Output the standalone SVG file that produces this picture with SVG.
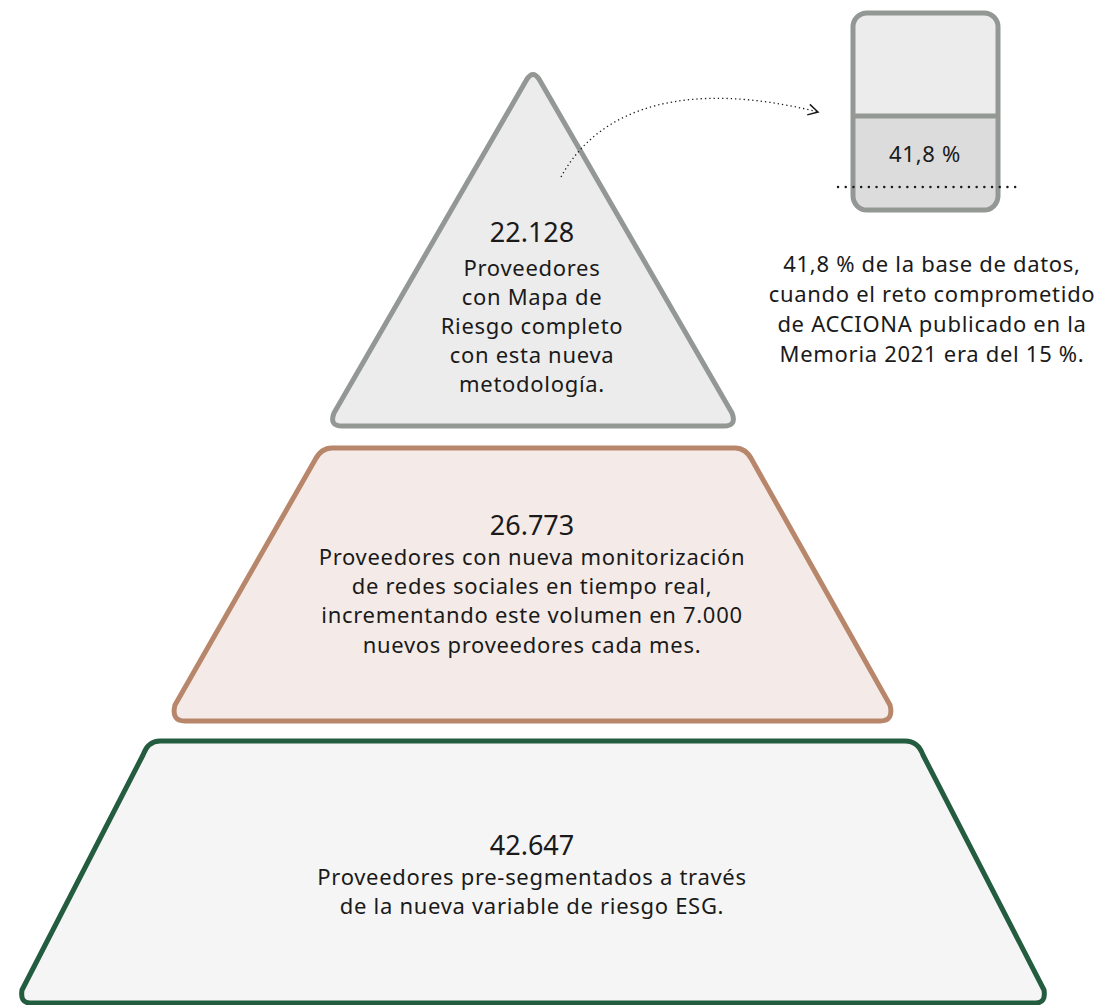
<svg xmlns="http://www.w3.org/2000/svg" width="1100" height="1005" viewBox="0 0 1100 1005">
<style>
text{font-family:"Noto Sans","Open Sans",sans-serif;fill:#1a1a1a;text-anchor:middle}
.t{font-size:22px;letter-spacing:0.7px}
.n{font-size:27px}
</style>
<defs>
<marker id="ah" viewBox="0 0 12 12" refX="10" refY="6" markerWidth="13" markerHeight="13" markerUnits="userSpaceOnUse" orient="auto">
<path d="M1,1 L10,6 L1,11" fill="none" stroke="#1a1a1a" stroke-width="1.4"/>
</marker>
</defs>
<rect width="1100" height="1005" fill="#fff"/>
<g id="level3">
<path d="M160,741 L905,741 Q918,741 923,755 L1044,990 Q1046,1003 1036,1003 L30,1003 Q20,1003 22,990 L143,755 Q148,741 160,741 Z" fill="#f5f5f5" stroke="#245c3f" stroke-width="5" stroke-linejoin="round"/>
<text class="n" x="532" y="855">42.647</text>
<text class="t" x="532" y="885">Proveedores pre-segmentados a través</text>
<text class="t" x="532" y="914">de la nueva variable de riesgo ESG.</text>
</g>
<g id="level2">
<path d="M332,448 L735,448 Q746,448 752,460 L890,705 Q894,721 880,721 L185,721 Q171,721 175,705 L315,460 Q321,448 332,448 Z" fill="#f4ebe8" stroke="#b8876b" stroke-width="5" stroke-linejoin="round"/>
<text class="n" x="532" y="535">26.773</text>
<text class="t" x="532" y="565">Proveedores con nueva monitorización</text>
<text class="t" x="532" y="594">de redes sociales en tiempo real,</text>
<text class="t" x="532" y="623">incrementando este volumen en 7.000</text>
<text class="t" x="532" y="653">nuevos proveedores cada mes.</text>
</g>
<g id="level1">
<path d="M527,79 Q533,70 539,79 L732,413 Q737,426 724,426 L342,426 Q329,426 334,413 Z" fill="#ececec" stroke="#939895" stroke-width="5" stroke-linejoin="round"/>
<text class="n" x="532" y="242">22.128</text>
<text class="t" x="532" y="276">Proveedores</text>
<text class="t" x="532" y="305">con Mapa de</text>
<text class="t" x="532" y="334">Riesgo completo</text>
<text class="t" x="532" y="363">con esta nueva</text>
<text class="t" x="532" y="392">metodología.</text>
</g>
<g id="gauge">
<path d="M866,13 L984,13 Q998,13 998,27 L998,116 L853,116 L853,27 Q853,13 866,13 Z" fill="#ececec"/>
<path d="M853,116 L998,116 L998,196 Q998,210 984,210 L866,210 Q853,210 853,196 Z" fill="#dcdcdc"/>
<rect x="853" y="13" width="145" height="197" rx="14" fill="none" stroke="#939895" stroke-width="5"/>
<line x1="853" y1="116" x2="998" y2="116" stroke="#939895" stroke-width="5"/>
<text class="t" x="925" y="162">41,8 %</text>
<line x1="838" y1="187" x2="1022" y2="187" stroke="#1a1a1a" stroke-width="2.4" stroke-dasharray="0.1 7.6" stroke-linecap="round"/>
</g>
<g id="note">
<text class="t" x="932" y="272">41,8 % de la base de datos,</text>
<text class="t" x="932" y="302">cuando el reto comprometido</text>
<text class="t" x="932" y="332">de ACCIONA publicado en la</text>
<text class="t" x="932" y="362">Memoria 2021 era del 15 %.</text>
</g>
<g id="connectors">
<path d="M561,177 C600,105 690,80 818,112" fill="none" stroke="#1a1a1a" stroke-width="1.3" stroke-dasharray="1.3 3" marker-end="url(#ah)"/>
</g>
</svg>
